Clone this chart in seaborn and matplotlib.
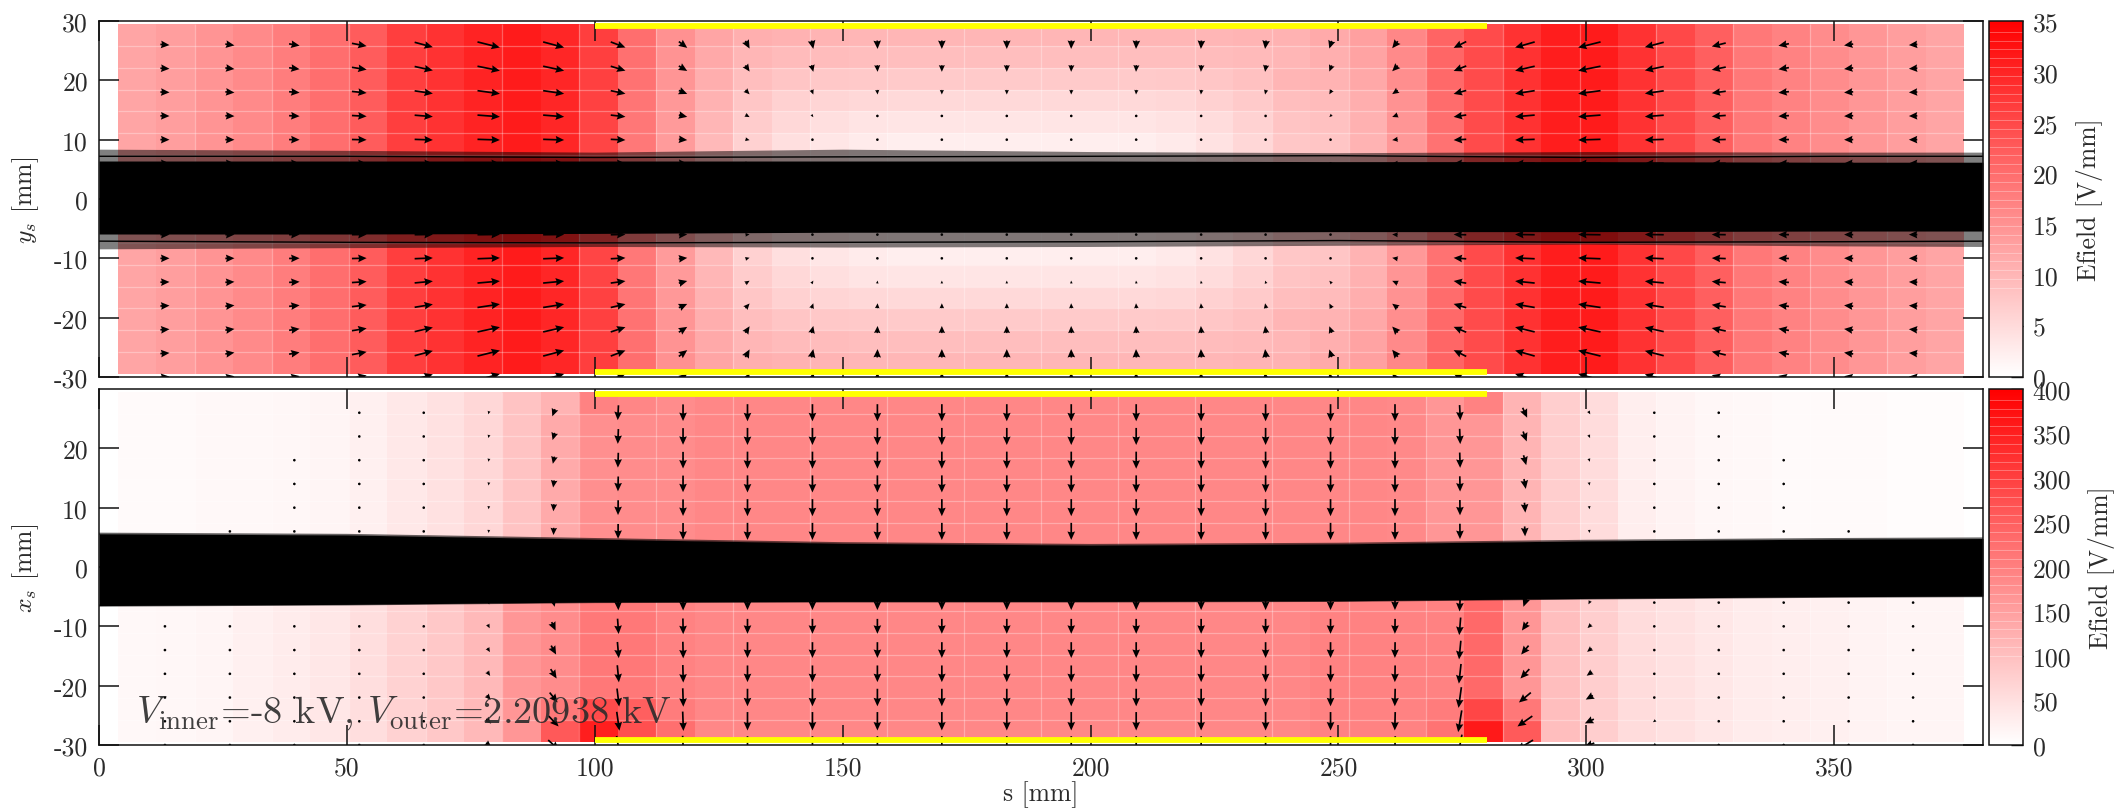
import numpy as np
import matplotlib
matplotlib.use('Agg')
import matplotlib.pyplot as plt
from matplotlib.colors import LinearSegmentedColormap
import seaborn as sns

W, H = 2114, 812

# field map cells, 48 columns along s, 16 rows across
s_edge_first = 3.8
s_edge_last = 376.2
row_edge_max = 29.5

# upper panel: the sides hardly change across y, the middle 23 columns do
top_left = [12.4, 13.3, 14.7, 16.1, 17.8, 19.9, 22.4, 26.5, 28.1, 30.2, 31.2, 29.8]
top_right = [24.7, 28.1, 30.9, 31.2, 28.1, 25.1, 22.0, 18.5, 17.2, 15.8, 14.4, 13.3, 12.4]
top_mid_0 = [26.5, 19.9, 15.1, 12.4, 11.0, 10.6, 10.3, 10.0, 10.0, 10.0, 10.0, 10.0,
             10.0, 10.0, 10.0, 10.0, 10.0, 10.3, 10.6, 11.7, 13.0, 16.5, 21.3]
top_mid_1 = [26.3, 19.6, 14.8, 11.8, 10.0, 9.4, 9.2, 9.0, 9.0, 9.0, 9.0, 9.0,
             9.0, 9.0, 9.0, 9.0, 9.2, 9.5, 10.0, 11.0, 12.6, 16.0, 21.0]
top_mid_2 = [26.2, 19.3, 14.5, 11.2, 8.9, 8.0, 7.6, 7.4, 7.3, 7.3, 7.3, 7.3,
             7.3, 7.3, 7.3, 7.4, 7.8, 8.6, 10.2, 10.4, 12.0, 15.5, 20.6]
top_mid_3 = [26.0, 19.0, 14.2, 10.6, 7.8, 6.4, 5.8, 5.4, 5.3, 5.3, 5.3, 5.3,
             5.3, 5.3, 5.3, 5.6, 6.3, 7.3, 9.0, 9.4, 11.2, 15.0, 20.2]
top_mid_4 = [25.7, 18.7, 13.9, 10.0, 7.0, 5.4, 4.5, 3.8, 3.6, 3.6, 3.6, 3.6,
             3.6, 3.6, 3.6, 4.0, 4.8, 6.2, 8.2, 8.6, 10.8, 14.6, 19.8]
top_mid_5 = [25.5, 18.5, 13.7, 9.6, 6.3, 4.5, 3.5, 2.8, 2.4, 2.4, 2.4, 2.4,
             2.4, 2.4, 2.4, 3.0, 4.0, 5.6, 7.7, 8.0, 10.4, 14.2, 19.4]

bot_up = [8, 8, 11, 11, 14, 16, 24, 36, 47, 63, 94, 133, 175, 180, 180, 188,
          188, 188, 188, 188, 188, 188, 188, 188, 188, 188, 188, 188, 188, 188, 188, 188,
          188, 185, 165, 165, 118, 78, 55, 27, 19, 14, 11, 8, 8, 8, 6, 6]
bot_up_edge = [8, 8, 11, 11, 14, 16, 24, 36, 47, 63, 94, 120, 196, 190, 180, 188,
               188, 188, 188, 188, 188, 188, 188, 188, 188, 188, 188, 188, 188, 188, 188, 188,
               188, 185, 165, 196, 118, 78, 55, 27, 19, 14, 11, 8, 8, 8, 6, 6]
bot_low = [11, 14, 17, 24, 30, 39, 52, 71, 86, 110, 165, 180, 212, 212, 196, 188,
           188, 188, 188, 188, 188, 188, 188, 188, 188, 188, 188, 188, 188, 188, 188, 196,
           196, 196, 196, 235, 165, 102, 78, 55, 47, 39, 31, 27, 24, 20, 17, 16]
bot_low_near = [11, 14, 17, 24, 30, 39, 52, 71, 86, 110, 165, 210, 282, 250, 205, 188,
                188, 188, 188, 188, 188, 188, 188, 188, 188, 188, 188, 188, 188, 188, 188, 196,
                196, 196, 205, 290, 212, 102, 78, 55, 47, 39, 31, 27, 24, 20, 17, 16]
bot_low_edge = [11, 14, 17, 24, 30, 39, 52, 71, 86, 110, 165, 260, 353, 275, 225, 188,
                188, 188, 188, 188, 188, 188, 188, 188, 188, 188, 188, 188, 188, 188, 188, 196,
                196, 196, 220, 360, 259, 102, 78, 55, 47, 39, 31, 27, 24, 20, 17, 16]

# arrows, 28 columns along s, 15 rows across
arrow_s = [13.3, 26.4, 39.4, 52.5, 65.5, 78.6, 91.7, 104.7, 117.8, 130.8, 143.9, 157.0, 170.0, 183.1,
           196.1, 209.2, 222.3, 235.3, 248.4, 261.4, 274.5, 287.6, 300.6, 313.7, 326.7, 339.8, 352.9, 365.9]
arrow_y_up = [26, 22, 18, 14, 10, 6, 2]
arrow_y_low = [-2, -6, -10, -14, -18, -22, -26, -30]

top_u = [13, 13, 15, 21, 26, 32, 30, 21, 12, 6, 2.5, 0.5, 0, 0,
         -0.3, -0.5, -0.7, -1.5, -3.5, -8, -18, -28, -32, -27, -20, -15, -13, -12]
top_v = [1, 2, 2.5, 4, 7, 8, 8, 8, 9, 11, 12, 12, 12, 12,
         12, 12, 12, 12, 11, 10, 9, 8, 8, 7, 5, 3, 2, 1]
top_v_rows_up = [1, 0.8, 0.55, 0.3, 0.12, 0.05, 0]
top_v_rows_low = [0, 0.05, 0.15, 0.35, 0.6, 0.85, 1, 1.1]

bot_v_up = [2, 3, 6, 10, 16, 35, 80, 165, 185, 190, 190, 190, 190, 190,
            190, 190, 190, 190, 190, 190, 170, 110, 35, 14, 8, 5, 2, 1]
bot_u_up = [0, 0, 0, 0, 0, -10, -30, -8, 0, 0, 0, 0, 0, 0,
            0, 0, 0, 0, 0, 0, 8, 50, 20, 5, 0, 0, 0, 0]
bot_u_rows_up = [1, 0.8, 0.6, 0.4, 0.2, 0.1, 0]
bot_v_low = [5, 7, 10, 14, 25, 50, 110, 200, 205, 195, 195, 195, 195, 195,
             195, 195, 195, 195, 195, 195, 230, 110, 45, 20, 12, 8, 5, 4]
bot_u_low = [0, 0, 0, 5, 15, 55, 110, 30, 8, 0, 0, 0, 0, 0,
             0, 0, 0, 0, 0, -5, -40, -165, -100, -30, -15, -8, -4, -3]
bot_u_rows_low = [0, 0.2, 0.4, 0.5, 0.6, 0.8, 1, 1.1]
bot_v_rows_low = [0.85, 0.85, 0.85, 0.9, 0.95, 1, 1.05, 1]
# highest y where an arrow of the upper half is still drawn
bot_up_reach = [0, 6, 18, 26, 26, 26, 26, 26, 26, 26, 26, 26, 26, 26,
                26, 26, 26, 26, 26, 26, 26, 26, 26, 26, 26, 18, 6, 0]

# beam envelopes
beam_s = [0, 50, 100, 150, 200, 250, 300, 350, 380]
top_core_up = [6.4, 6.4, 6.4, 6.4, 6.4, 6.3, 6.3, 6.2, 6.2]
top_core_low = [-5.9, -5.9, -5.8, -5.6, -5.6, -5.5, -5.5, -5.4, -5.4]
top_fringe_up = [8.4, 8.2, 7.9, 8.4, 8.0, 7.8, 8.0, 7.9, 7.9]
top_fringe_low = [-8.4, -8.2, -8.0, -8.1, -8.0, -7.8, -7.6, -7.9, -8.0]
top_line_up = [7.2, 7.2, 7.0, 7.1, 7.2, 7.3, 7.0, 7.2, 7.2]
top_line_low = [-7.1, -7.3, -7.4, -7.3, -7.2, -7.0, -7.3, -7.2, -7.1]
bot_core_up = [5.6, 5.4, 4.7, 4.0, 3.7, 3.9, 4.4, 4.7, 4.8]
bot_core_low = [-6.5, -6.3, -5.9, -5.8, -5.8, -5.7, -5.3, -5.0, -4.9]

# plates
plate_s = [100, 280]
plate_y = 29.2

s_ticks = [0, 50, 100, 150, 200, 250, 300, 350]
top_y_ticks = [-30, -20, -10, 0, 10, 20, 30]
top_y_labels = ['-30', '-20', '-10', '0', '10', '20', '30']
bot_y_ticks = [-30, -20, -10, 0, 10, 20]
bot_y_labels = ['-30', '-20', '-10', '0', '10', '20']
top_cb_ticks = [0, 5, 10, 15, 20, 25, 30, 35]
bot_cb_ticks = [0, 50, 100, 150, 200, 250, 300, 350, 400]

sns.set_theme(style='white')
plt.rcParams['font.family'] = ['cmr10', 'DejaVu Serif']
plt.rcParams['mathtext.fontset'] = 'cm'
plt.rcParams['axes.unicode_minus'] = False
plt.rcParams['axes.formatter.use_mathtext'] = True
FS = 18.5
INK = '#2b2b2b'

white_red = LinearSegmentedColormap.from_list('white_red', ['#ffffff', '#ff0000'])

top_half = [top_left + m + top_right for m in (top_mid_0, top_mid_1, top_mid_2, top_mid_3, top_mid_4, top_mid_5)]
top_cells = np.array(top_half + [top_half[5]] * 4 + top_half[::-1])
bot_cells = np.array([bot_up_edge, bot_up, bot_up, bot_up, bot_up, bot_up, bot_up, bot_up,
                      bot_low, bot_low, bot_low, bot_low, bot_low, bot_low, bot_low_near, bot_low_edge])


def axes_box(top, bottom, left=99, right=1983):
    return [left / W, 1 - bottom / H, (right - left) / W, (bottom - top) / H]


def panel(top, bottom, cells, vmax, cb_ticks, cb_label, cb_label_x):
    ax = plt.gcf().add_axes(axes_box(top, bottom), zorder=2)
    ax.set_xlim(0, 380)
    ax.set_ylim(-30, 30)
    ax.patch.set_visible(False)

    # cells sit in their own axes, lined up with the data range of the main one
    corners = ax.transData.transform([(s_edge_first, -row_edge_max), (s_edge_last, row_edge_max)])
    (x0, y0), (x1, y1) = plt.gcf().transFigure.inverted().transform(corners)
    hax = plt.gcf().add_axes([x0, y0, x1 - x0, y1 - y0], zorder=1)
    cax = plt.gcf().add_axes(axes_box(top, bottom, 1989, 2023), zorder=2)
    sns.heatmap(cells, ax=hax, cbar_ax=cax, cmap=white_red, vmin=0, vmax=vmax,
                xticklabels=False, yticklabels=False)
    cbar = hax.collections[0].colorbar
    hax.set_axis_off()
    # faint seams between the cells and in the bar
    hax.vlines(np.arange(2, 48, 2), 0, 16, color='white', lw=0.9, alpha=0.3)
    hax.hlines(np.arange(1, 16), 0, 48, color='white', lw=0.9, alpha=0.3)
    cax.hlines(np.linspace(0.25, 0.97, 30) * vmax, 0, 1, transform=cax.get_yaxis_transform(),
               color='white', lw=0.7, alpha=0.3)

    cbar.set_ticks(cb_ticks, labels=[str(t) for t in cb_ticks])
    cax.tick_params(axis='y', direction='in', length=8.5, width=1.0, color='#111111', pad=7,
                    labelsize=FS, labelcolor=INK, right=True, left=False)
    cbar.outline.set_linewidth(1.1)
    cbar.outline.set_edgecolor('#111111')
    cbar.set_label(cb_label, fontsize=FS, color=INK)
    cax.yaxis.set_label_coords(cb_label_x, 0.5)

    ax.set_xticks(s_ticks)
    ax.tick_params(axis='both', direction='in', length=14.5, width=1.1, color='#111111',
                   top=True, right=True, bottom=True, left=True, labelsize=FS, labelcolor=INK, pad=8)
    for spine in ax.spines.values():
        spine.set_visible(True)
        spine.set_linewidth(1.1)
        spine.set_color('#111111')
        spine.set_zorder(6)
    for y in (plate_y, -plate_y):
        ax.plot(plate_s, [y, y], color='#ffff00', lw=4.2, solid_capstyle='butt', zorder=4)
    return ax


def arrows(ax, u, v, scale):
    ax.quiver(np.array(arrow_s), np.array(arrow_y_up + arrow_y_low), u, v, angles='uv', pivot='mid',
              units='dots', width=1.7, headwidth=4.5, headlength=5, headaxislength=4.5,
              minlength=1.7, scale_units='dots', scale=scale, color='black', zorder=3)


fig = plt.figure(figsize=(W / 100, H / 100), dpi=100)

# upper panel
ax1 = panel(22, 378, top_cells, 35, top_cb_ticks, 'Efield [V/mm]', 2.55)
ax1.set_xticklabels([])
ax1.set_yticks(top_y_ticks)
ax1.set_yticklabels(top_y_labels)
ax1.set_ylabel(r'$y_s$ [mm]', fontsize=FS, color=INK)
ax1.yaxis.set_label_coords(-0.031, 0.5)

rows_v = np.array(top_v_rows_up + [-w for w in top_v_rows_low])
U1 = np.tile(np.array(top_u, float), (15, 1))
V1 = -np.outer(rows_v, np.array(top_v, float))
arrows(ax1, U1, V1, 1 / 0.7)

ax1.fill_between(beam_s, top_fringe_low, top_fringe_up, color='black', alpha=0.5, lw=0, zorder=5)
ax1.fill_between(beam_s, top_core_low, top_core_up, color='black', lw=0, zorder=5)
sns.lineplot(x=beam_s, y=top_line_up, ax=ax1, color='black', lw=1.0, estimator=None, zorder=5)
sns.lineplot(x=beam_s, y=top_line_low, ax=ax1, color='black', lw=1.0, estimator=None, zorder=5)

# lower panel
ax2 = panel(390, 746, bot_cells, 400, bot_cb_ticks, 'Efield [V/mm]', 2.9)
ax2.set_xticklabels([str(t) for t in s_ticks])
ax2.set_yticks(bot_y_ticks)
ax2.set_yticklabels(bot_y_labels)
ax2.set_xlabel('s [mm]', fontsize=FS, color=INK)
ax2.xaxis.set_label_coords(0.5, -0.1)
ax2.set_ylabel(r'$x_s$ [mm]', fontsize=FS, color=INK)
ax2.yaxis.set_label_coords(-0.031, 0.5)

U2 = np.vstack([np.outer(bot_u_rows_up, bot_u_up), np.outer(bot_u_rows_low, bot_u_low)])
V2 = -np.vstack([np.tile(np.array(bot_v_up, float), (7, 1)), np.outer(bot_v_rows_low, bot_v_low)])
hide = np.zeros(U2.shape, bool)
for i, y in enumerate(arrow_y_up):
    hide[i] = y > np.array(bot_up_reach)
arrows(ax2, np.ma.array(U2, mask=hide), np.ma.array(V2, mask=hide), 1 / 0.09)

ax2.fill_between(beam_s, bot_core_low, bot_core_up, color='black', lw=0, zorder=5)
sns.lineplot(x=beam_s, y=bot_core_up, ax=ax2, color='black', lw=1.6, alpha=0.6, estimator=None, zorder=5)
sns.lineplot(x=beam_s, y=bot_core_low, ax=ax2, color='black', lw=1.6, alpha=0.6, estimator=None, zorder=5)

ax2.text(7.5, -24.5, r'$V_{\mathrm{inner}}$=-8 kV, $V_{\mathrm{outer}}$=2.20938 kV', fontsize=27.6,
         color=INK, alpha=0.9, va='center', ha='left', zorder=7)

for ax in (ax1, ax2):
    ax.set_xlim(0, 380)
    ax.set_ylim(-30, 30)

plt.savefig('out.png', dpi=100)
